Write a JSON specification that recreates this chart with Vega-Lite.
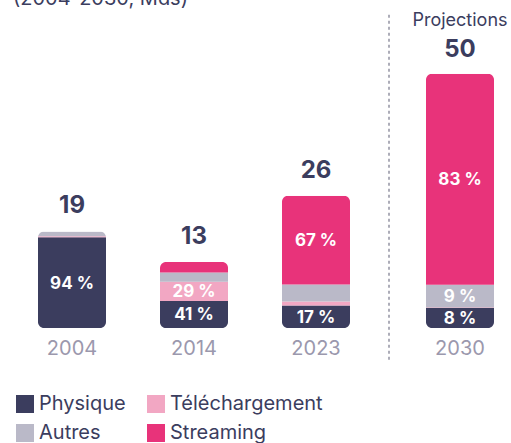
{
  "$schema": "https://vega.github.io/schema/vega-lite/v6.json",
  "autosize": {"type": "pad"},
  "padding": {"left": 11, "top": -11, "right": 0, "bottom": 0},
  "config": {"font": "Inter", "view": {"stroke": null}},
  "bounds": "flush",
  "spacing": 22,
  "data": {"values": [
    {"annee": "2004", "type": "Physique", "rang": 1, "mds": 17.86, "label": "94 %"},
    {"annee": "2004", "type": "Téléchargement", "rang": 2, "mds": 0.19, "label": ""},
    {"annee": "2004", "type": "Autres", "rang": 3, "mds": 0.95, "label": ""},
    {"annee": "2004", "type": "Streaming", "rang": 4, "mds": 0, "label": ""},
    {"annee": "2014", "type": "Physique", "rang": 1, "mds": 5.33, "label": "41 %"},
    {"annee": "2014", "type": "Téléchargement", "rang": 2, "mds": 3.77, "label": "29 %"},
    {"annee": "2014", "type": "Autres", "rang": 3, "mds": 1.82, "label": ""},
    {"annee": "2014", "type": "Streaming", "rang": 4, "mds": 2.08, "label": ""},
    {"annee": "2023", "type": "Physique", "rang": 1, "mds": 4.42, "label": "17 %"},
    {"annee": "2023", "type": "Téléchargement", "rang": 2, "mds": 0.78, "label": ""},
    {"annee": "2023", "type": "Autres", "rang": 3, "mds": 3.38, "label": ""},
    {"annee": "2023", "type": "Streaming", "rang": 4, "mds": 17.42, "label": "67 %"},
    {"annee": "2030", "type": "Physique", "rang": 1, "mds": 4.0, "label": "8 %"},
    {"annee": "2030", "type": "Téléchargement", "rang": 2, "mds": 0.1, "label": ""},
    {"annee": "2030", "type": "Autres", "rang": 3, "mds": 4.4, "label": "9 %"},
    {"annee": "2030", "type": "Streaming", "rang": 4, "mds": 41.5, "label": "83 %"}
  ]},
  "hconcat": [
    {
      "width": 366,
      "height": 305,
      "transform": [{"filter": "datum.annee != '2030'"}],
      "encoding": {
        "x": {"field": "annee", "type": "nominal", "title": null,
              "scale": {"domain": ["2004", "2014", "2023"], "paddingInner": 0.4426, "paddingOuter": 0.2213},
              "axis": {"domain": false, "ticks": false, "labelAngle": 0, "labelFontSize": 20, "labelColor": "#9b98ad", "labelPadding": 10}}
      },
      "layer": [
        {
          "mark": {"type": "bar", "cornerRadius": 6},
          "encoding": {
            "y": {"field": "mds", "type": "quantitative", "stack": "zero", "scale": {"domain": [0, 60], "nice": false}, "axis": null},
            "order": {"field": "rang", "type": "quantitative", "sort": "ascending"},
            "color": {"field": "type", "type": "nominal", "title": null,
                      "scale": {"domain": ["Physique", "Téléchargement", "Autres", "Streaming"], "range": ["#3b3d5e", "#f2a7c3", "#bab9c8", "#e8337a"]},
                      "legend": {"orient": "none", "legendX": 4, "legendY": 371, "columns": 2, "direction": "horizontal", "symbolType": "square", "symbolSize": 324, "symbolStrokeWidth": 0, "labelFontSize": 20, "labelColor": "#3b3d5e", "labelOffset": 4, "columnPadding": 20, "rowPadding": 9}}
          }
        },
        {
          "mark": {"type": "text", "fontSize": 17, "fontWeight": "bold", "color": "white", "baseline": "middle", "align": "center", "dy": 1},
          "encoding": {
            "y": {"field": "mds", "type": "quantitative", "stack": "zero", "bandPosition": 0.5},
            "order": {"field": "rang", "type": "quantitative", "sort": "ascending"},
            "text": {"field": "label"}
          }
        },
        {
          "mark": {"type": "text", "fontSize": 24, "fontWeight": "bold", "color": "#3b3d5e", "dy": -18, "baseline": "alphabetic"},
          "encoding": {
            "y": {"aggregate": "sum", "field": "mds", "type": "quantitative"},
            "text": {"aggregate": "sum", "field": "mds", "type": "quantitative", "format": ".0f"}
          }
        },
        {
          "data": {"values": [{}]},
          "mark": {"type": "text", "fontSize": 20, "color": "#3b3d5e", "align": "left", "baseline": "alphabetic"},
          "encoding": {
            "x": {"datum": "2004", "bandPosition": -0.368},
            "y": {"datum": 63.5},
            "text": {"value": "(2004-2030, Mds)"}
          }
        }
      ]
    },
    {
      "width": 122,
      "height": 305,
      "transform": [{"filter": "datum.annee == '2030'"}],
      "encoding": {
        "x": {"field": "annee", "type": "nominal", "title": null,
              "scale": {"domain": ["2030"], "paddingInner": 0.4426, "paddingOuter": 0.2213},
              "axis": {"domain": false, "ticks": false, "labelAngle": 0, "labelFontSize": 20, "labelColor": "#9b98ad", "labelPadding": 10}}
      },
      "layer": [
        {
          "mark": {"type": "bar", "cornerRadius": 6},
          "encoding": {
            "y": {"field": "mds", "type": "quantitative", "stack": "zero", "scale": {"domain": [0, 60], "nice": false}, "axis": null},
            "order": {"field": "rang", "type": "quantitative", "sort": "ascending"},
            "color": {"field": "type", "type": "nominal", "title": null,
                      "scale": {"domain": ["Physique", "Téléchargement", "Autres", "Streaming"], "range": ["#3b3d5e", "#f2a7c3", "#bab9c8", "#e8337a"]}}
          }
        },
        {
          "mark": {"type": "text", "fontSize": 17, "fontWeight": "bold", "color": "white", "baseline": "middle", "align": "center", "dy": 1},
          "encoding": {
            "y": {"field": "mds", "type": "quantitative", "stack": "zero", "bandPosition": 0.5},
            "order": {"field": "rang", "type": "quantitative", "sort": "ascending"},
            "text": {"field": "label"}
          }
        },
        {
          "mark": {"type": "text", "fontSize": 24, "fontWeight": "bold", "color": "#3b3d5e", "dy": -17, "baseline": "alphabetic"},
          "encoding": {
            "y": {"aggregate": "sum", "field": "mds", "type": "quantitative"},
            "text": {"aggregate": "sum", "field": "mds", "type": "quantitative", "format": ".0f"}
          }
        },
        {
          "mark": {"type": "text", "fontSize": 18, "color": "#3b3d5e", "dy": -48, "baseline": "alphabetic"},
          "encoding": {
            "y": {"aggregate": "sum", "field": "mds", "type": "quantitative"},
            "text": {"value": "Projections"}
          }
        },
        {
          "data": {"values": [{}]},
          "mark": {"type": "rule", "strokeDash": [3, 3], "color": "#77778a", "strokeWidth": 1.2},
          "encoding": {
            "x": {"datum": "2030", "bandPosition": -0.544},
            "y": {"datum": 61.6},
            "y2": {"datum": -6.7}
          }
        }
      ]
    }
  ]
}
